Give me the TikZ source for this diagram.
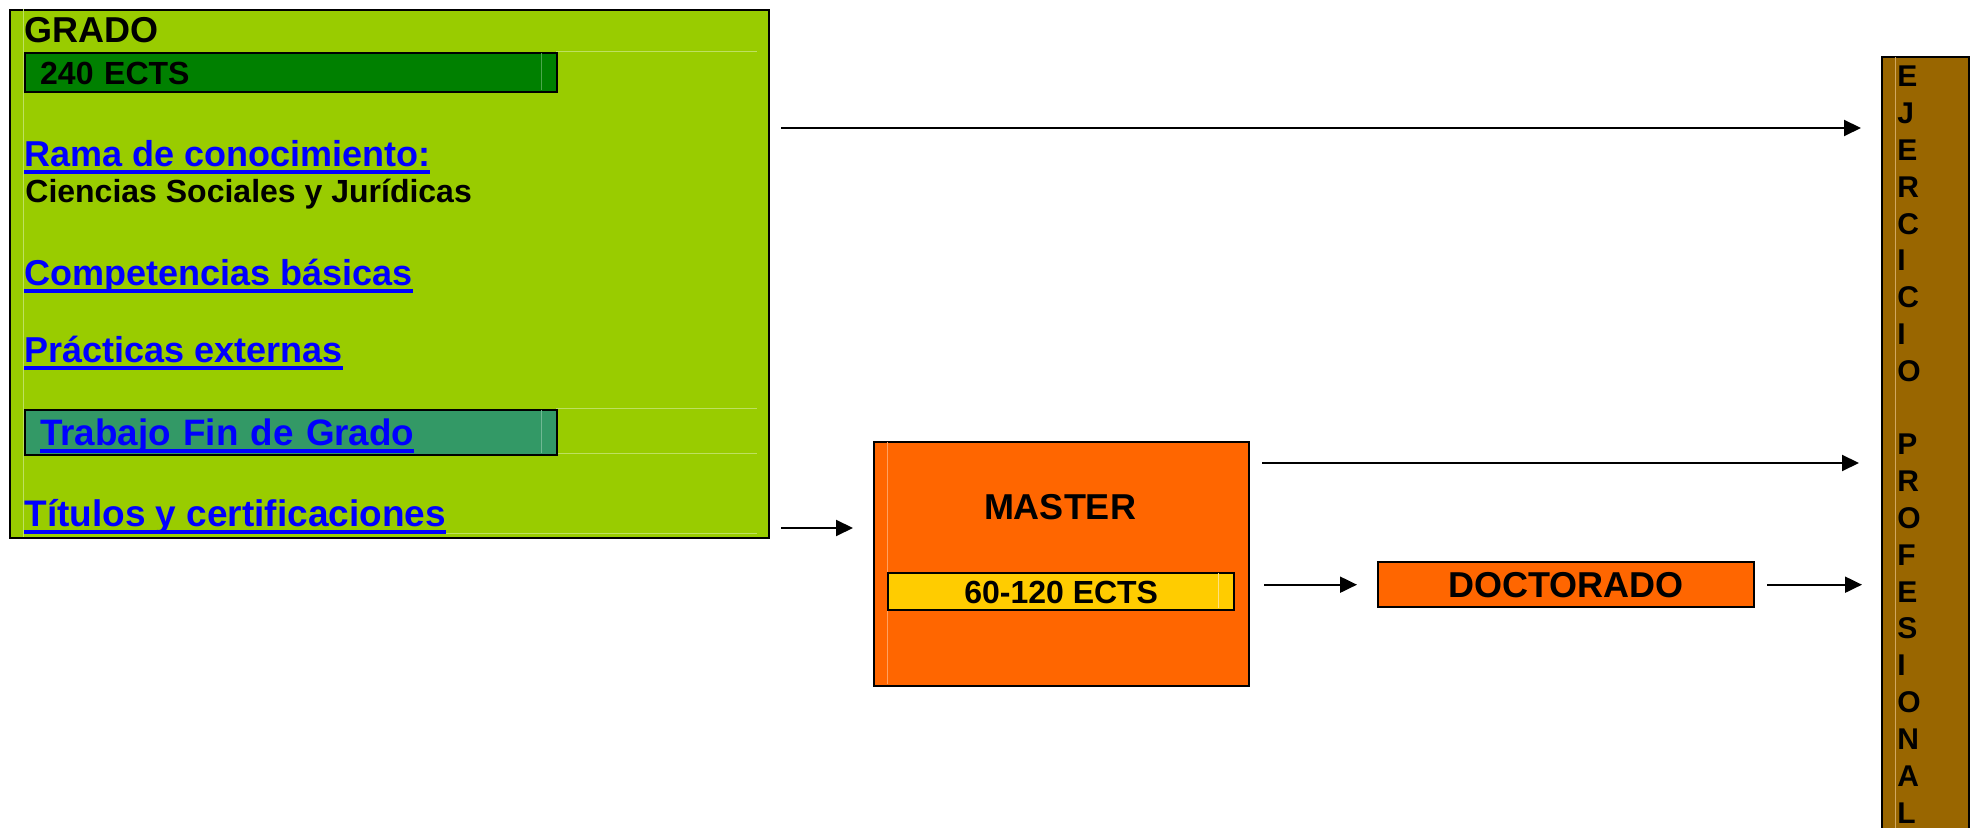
\documentclass[tikz,border=0pt]{standalone}
\usepackage{fontspec}
\setmainfont{Liberation Sans}
\usetikzlibrary{arrows.meta,positioning}

\definecolor{gradogreen}{HTML}{99CC00}
\definecolor{gradoline}{HTML}{BEE060}
\definecolor{ectsgreen}{HTML}{008000}
\definecolor{tfggreen}{HTML}{339966}
\definecolor{masterorange}{HTML}{FF6600}
\definecolor{masterline}{HTML}{FFA060}
\definecolor{ectsyellow}{HTML}{FFCC00}
\definecolor{ectsline}{HTML}{FFE080}
\definecolor{ejerbrown}{HTML}{996600}
\definecolor{ejerline}{HTML}{D0A860}
\definecolor{linkblue}{HTML}{0000FF}

\newsavebox{\enlacebox}
\newcommand{\enlace}[1]{\sbox{\enlacebox}{#1}\rlap{\rule[-3.5pt]{\wd\enlacebox}{2pt}}\usebox{\enlacebox}}

\begin{document}
\begin{tikzpicture}[x=0.5pt, y=-0.5pt,
		caja/.style={draw, line width=1.2pt, rectangle, inner sep=0pt, anchor=north west},
		franja/.style={caja, text height=11.5pt, text depth=0pt, font=\bfseries\fontsize{16pt}{19pt}\selectfont},
		texto/.style={anchor=base west, inner sep=0pt, font=\bfseries\fontsize{18pt}{21pt}\selectfont},
		enlace/.style={texto, text=linkblue},
		letra/.style={anchor=base west, inner sep=0pt, font=\bfseries\fontsize{15pt}{18pt}\selectfont},
		celda/.style={draw=#1, line width=0.5pt},
		flecha/.style={line width=1pt, -{Triangle[length=8.5pt,width=8pt]}, shorten >=10pt}]

	\useasboundingbox (0,0) rectangle (1972,828);

	\node[caja, fill=gradogreen, minimum width=379.5pt, minimum height=264pt] (grado) at (9,9) {};
	\draw[celda=gradoline] (23.5,9) -- (23.5,537);
	\draw[celda=gradoline] (556,52) -- (757,52);
	\draw[celda=gradoline] (556,409) -- (757,409);
	\draw[celda=gradoline] (556,454) -- (757,454);
	\draw[celda=gradoline] (23.5,534) -- (757,534);

	\node[franja, fill=ectsgreen, minimum width=266pt, minimum height=19.5pt,
		text width=250.5pt, align=left, inner xsep=7.75pt] (ects) at (23.5,52) {240 ECTS};
	\node[franja, fill=tfggreen, minimum width=266pt, minimum height=22.5pt,
		text width=250.5pt, align=left, inner xsep=7.75pt, text height=12.9pt,
		text=linkblue, font=\bfseries\fontsize{18.4pt}{21pt}\selectfont] (tfg) at (23.5,409) {\enlace{Trabajo Fin de Grado}};
	\draw[celda=ectsgreen!70!white] (541,53) -- (541,90);
	\draw[celda=tfggreen!70!white] (541,410) -- (541,453);

	\node[texto] (titulo) at (24,43) {GRADO};
	\node[enlace] (rama) at (24,167) {\enlace{Rama de conocimiento:}};
	\node[texto, font=\bfseries\fontsize{16pt}{19pt}\selectfont] (ciencias) at (25,203) {Ciencias Sociales y Jurídicas};
	\node[enlace] (competencias) at (24,286) {\enlace{Competencias básicas}};
	\node[enlace] (practicas) at (24,363) {\enlace{Prácticas externas}};
	\node[enlace, font=\bfseries\fontsize{18.5pt}{21pt}\selectfont] (titulos) at (24,527) {\enlace{Títulos y certificaciones}};

	\node[caja, fill=masterorange, minimum width=187.5pt, minimum height=122pt] (master) at (873,441) {};
	\draw[celda=masterline] (887,442) -- (887,684);
	\node[texto, anchor=base] (mastertxt) at (1060,520) {MASTER};
	\node[franja, fill=ectsyellow, minimum width=173pt, minimum height=18.5pt] (ectsmaster) at (887,572) {60-120 ECTS};
	\draw[celda=ectsline] (1218,573) -- (1218,608);

	\node[franja, fill=masterorange, minimum width=188pt, minimum height=22.5pt, text height=12.9pt,
		font=\bfseries\fontsize{18pt}{21pt}\selectfont] (doctorado) at (1377,561) {DOCTORADO};

	\node[caja, fill=ejerbrown, minimum width=43.5pt, minimum height=430pt] (ejer) at (1881,56) {};
	\draw[celda=ejerline] (1895,57) -- (1895,900);
	\foreach \l [count=\i from 0] in {E,J,E,R,C,I,C,I,O}
		\node[letra] (ej\i) at (1897,{87+36.8*\i}) {\l};
	\foreach \l [count=\i from 10] in {P,R,O,F,E,S,I,O,N,A,L}
		\node[letra] (pr\i) at (1897,{87+36.8*\i}) {\l};

	\coordinate (g1) at (781,128);
	\coordinate (g2) at (781,528);
	\coordinate (m1) at (1262,463);
	\coordinate (m2) at ([xshift=7pt]master.east |- doctorado.west);
	\coordinate (d1) at ([xshift=6pt]doctorado.east);
	\draw[flecha] (g1) -- (g1 -| ejer.west);
	\draw[flecha] (g2) -- (g2 -| master.west);
	\draw[flecha, shorten >=11pt] (m1) -- (m1 -| ejer.west);
	\draw[flecha] (m2) -- (doctorado.west);
	\draw[flecha, shorten >=9.5pt] (d1) -- (d1 -| ejer.west);
\end{tikzpicture}
\end{document}
